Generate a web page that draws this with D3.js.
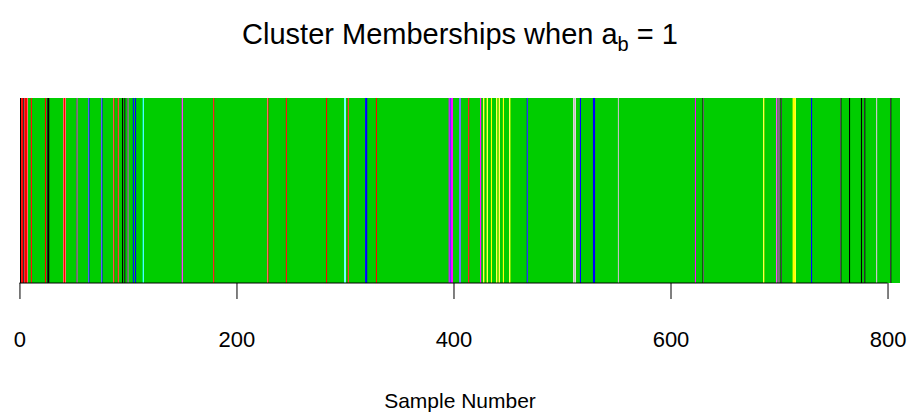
<html>
<head><meta charset="utf-8"/></head>
<script src='https://d3js.org/d3.v7.min.js'></script>
<style>
  body {margin: 0; background: white;}
  text {font-family: "Liberation Sans", Arial, sans-serif;}
</style>
<body>
<svg width=917 height=419></svg>
<script>

// number of samples and cluster palette (R's old default palette)
var nSamples = 811;
var clusterNames = ["black", "red", "green", "blue", "cyan", "magenta", "yellow", "gray"];
var clusterColors = ["#000000", "#FF0000", "#00CD00", "#0000FF", "#00FFFF", "#FF00FF", "#FFFF00", "#BEBEBE"];
var baseCluster = "green";

// samples that are not in the green cluster
var blackSamples = [1, 4, 26, 27, 53, 95, 97, 100, 630, 700, 702, 757, 765, 776, 779, 803];
var redSamples = [2, 3, 5, 6, 7, 11, 24, 41, 42, 87, 91, 179, 229, 246, 283, 303, 329, 414];
var blueSamples = [64, 76, 105, 107, 319, 320, 397, 406, 468, 517, 529, 530, 730];
var cyanSamples = [114, 300];
var magentaSamples = [150, 396, 398, 399, 425, 623, 698];
var yellowSamples = [428, 431, 435, 440, 442, 446, 452, 686, 713, 714, 715];
var graySamples = [511, 512, 552, 790];

var xTicks = [0, 200, 400, 600, 800];

// membership of every sample
var members = [];
for (var i = 1; i <= nSamples; i++) members.push({sample: i, cluster: baseCluster});
function setCluster(list, name) {
  list.forEach(function(s) { members[s - 1].cluster = name; });
}
setCluster(blackSamples, "black");
setCluster(redSamples, "red");
setCluster(blueSamples, "blue");
setCluster(cyanSamples, "cyan");
setCluster(magentaSamples, "magenta");
setCluster(yellowSamples, "yellow");
setCluster(graySamples, "gray");

// runs of same cluster so that green stretches have no seams
var runs = [];
members.forEach(function(d) {
  var last = runs[runs.length - 1];
  if (last && last.cluster == d.cluster) last.end = d.sample;
  else runs.push({cluster: d.cluster, start: d.sample, end: d.sample});
});

// note: "top" is taken by window.top, so plot edges get their own names
var plotLeft = 20, plotRight = 900, plotTop = 98, plotBottom = 283;
var x = d3.scaleLinear().domain([0.5, nSamples + 0.5]).range([plotLeft, plotRight]);
var y = d3.scaleLinear().domain([0, 1]).range([plotBottom, plotTop]);
var color = d3.scaleOrdinal().domain(clusterNames).range(clusterColors);

var svg = d3.select("svg");

function drawRuns(g, data) {
  g.selectAll("rect")
    .data(data)
    .enter()
    .append("rect")
    .attr("x", function(d) { return x(d.start - 0.5); })
    .attr("width", function(d) { return x(d.end + 0.5) - x(d.start - 0.5); })
    .attr("y", y(1))
    .attr("height", y(0) - y(1))
    .attr("fill", function(d) { return color(d.cluster); });
}
// green stretches crisp (no seams), the other clusters smooth on top
drawRuns(svg.append("g").attr("shape-rendering", "crispEdges"),
  runs.filter(function(d) { return d.cluster == baseCluster; }));
drawRuns(svg.append("g"),
  runs.filter(function(d) { return d.cluster != baseCluster; }));

// x axis, R style: line only between first and last tick
var axis = svg.append("g")
  .attr("transform", "translate(0," + plotBottom + ")")
  .call(d3.axisBottom(x).tickValues(xTicks).tickSize(16).tickPadding(32).tickFormat(d3.format("d")));
axis.select(".domain").remove();
axis.append("line")
  .attr("x1", x(xTicks[0])).attr("x2", x(xTicks[xTicks.length - 1]))
  .attr("stroke", "black");
axis.selectAll(".tick line").attr("stroke", "black");
axis.selectAll(".tick text")
  .attr("fill", "black")
  .style("font-size", "22px")
  .style("font-family", "Liberation Sans, Arial, sans-serif");

svg.append("text")
  .attr("x", (plotLeft + plotRight) / 2)
  .attr("y", 408)
  .attr("text-anchor", "middle")
  .style("font-size", "21px")
  .text("Sample Number");

var title = svg.append("text")
  .attr("x", (plotLeft + plotRight) / 2)
  .attr("y", 44)
  .attr("text-anchor", "middle")
  .style("font-size", "29px");
title.append("tspan").text("Cluster Memberships when a");
title.append("tspan").attr("dy", 7).style("font-size", "20px").text("b");
title.append("tspan").attr("dy", -7).text(" = 1");

</script>
</body>
</html>
